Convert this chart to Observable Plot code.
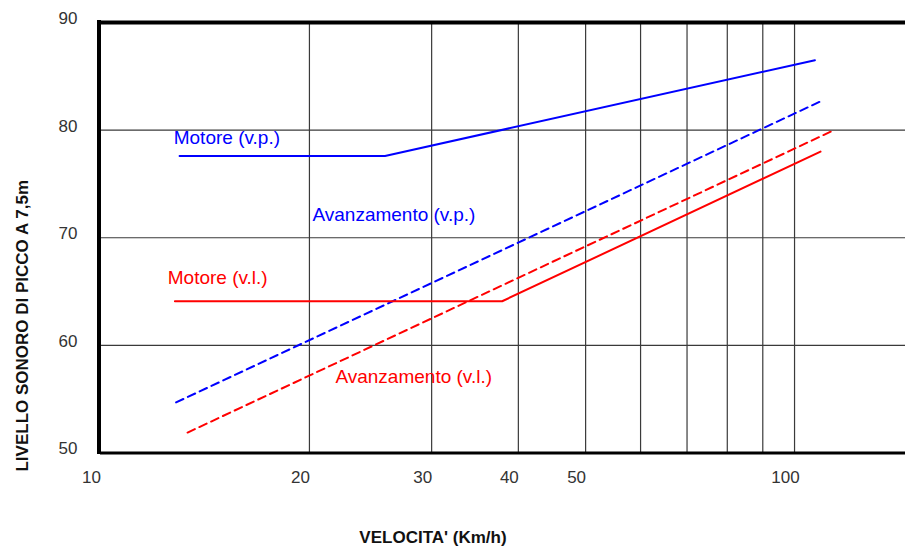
<!DOCTYPE html>
<html>
<head>
<meta charset="utf-8">
<script src="https://cdn.jsdelivr.net/npm/d3@7"></script>
<script src="https://cdn.jsdelivr.net/npm/@observablehq/plot@0.6"></script>
<style>
  html, body { margin: 0; padding: 0; background: #fff; }
</style>
</head>
<body>
<div id="chart"></div>
<script>
// Series (speed km/h, level dB)
const motoreVPSpeed = [13.0, 25.7, 107.0];
const motoreVPLevel = [77.6, 77.6, 86.5];
const avanzVPSpeed = [12.85, 110.1];
const avanzVPLevel = [54.7, 82.8];
const motoreVLSpeed = [12.8, 37.9, 109.0];
const motoreVLLevel = [64.1, 64.1, 78.0];
const avanzVLSpeed = [13.35, 114.0];
const avanzVLLevel = [51.9, 80.0];

// Series labels and their anchor points (data units)
const seriesNames = ["Motore (v.p.)", "Avanzamento (v.p.)", "Motore (v.l.)", "Avanzamento (v.l.)"];
const labelSpeed = [12.75, 20.2, 12.5, 21.8];
const labelLevel = [79.3, 72.1, 66.3, 57.1];
const labelColors = ["#0000ff", "#0000ff", "#ff0000", "#ff0000"];

// Ticks & grid
const xTickValues = [10, 20, 30, 40, 50, 100];
const xGridValues = [20, 30, 40, 50, 60, 70, 80, 90, 100];
const yTickValues = [50, 60, 70, 80, 90];
const yGridValues = [60, 70, 80];

const xTitle = "VELOCITA' (Km/h)";
const yTitle = "LIVELLO SONORO DI PICCO A 7,5m";

const toRows = (xs, ys) => xs.map((x, i) => ({x, y: ys[i]}));
const labels = seriesNames.map((t, i) => ({t, x: labelSpeed[i], y: labelLevel[i], c: labelColors[i]}));

const chart = Plot.plot({
  width: 905,
  height: 547,
  marginLeft: 100,
  marginRight: 0,
  marginTop: 22,
  marginBottom: 94.5,
  style: {fontFamily: "'Liberation Sans', Arial, sans-serif", background: "#fff"},
  x: {type: "log", domain: [10, 144.5]},
  y: {domain: [50, 90]},
  marks: [
    Plot.ruleX(xGridValues, {stroke: "#3a3a3a", strokeWidth: 1.2}),
    Plot.ruleY(yGridValues, {stroke: "#3a3a3a", strokeWidth: 1.2}),
    Plot.line(toRows(motoreVPSpeed, motoreVPLevel), {x: "x", y: "y", stroke: "#0000ff", strokeWidth: 2}),
    Plot.line(toRows(avanzVPSpeed, avanzVPLevel), {x: "x", y: "y", stroke: "#0000ff", strokeWidth: 2, strokeDasharray: "8,5"}),
    Plot.line(toRows(motoreVLSpeed, motoreVLLevel), {x: "x", y: "y", stroke: "#ff0000", strokeWidth: 2}),
    Plot.line(toRows(avanzVLSpeed, avanzVLLevel), {x: "x", y: "y", stroke: "#ff0000", strokeWidth: 2, strokeDasharray: "8,5"}),
    Plot.text(labels, {x: "x", y: "y", text: "t", fill: "c", textAnchor: "start", lineAnchor: "middle", fontSize: 19}),
    // frame (top, left, bottom)
    Plot.ruleY([90], {stroke: "#000", strokeWidth: 4}),
    Plot.ruleY([50], {stroke: "#000", strokeWidth: 3}),
    Plot.ruleX([10], {stroke: "#000", strokeWidth: 4, dx: -1.5, insetTop: -2, insetBottom: -1.5}),
    Plot.axisX({ticks: xTickValues, tickSize: 0, tickPadding: 18, tickFormat: d => String(d), fontSize: 17, color: "#333", dx: -9, label: null}),
    Plot.axisY({ticks: yTickValues, tickSize: 0, tickPadding: 23, tickFormat: d => String(d), fontSize: 17, color: "#333", dy: -4, label: null}),
    Plot.text([xTitle], {frameAnchor: "bottom", textAnchor: "middle", lineAnchor: "middle", dx: -70, dy: 84.5, fontSize: 17, fontWeight: "bold", fill: "#111"}),
    Plot.text([yTitle], {frameAnchor: "left", textAnchor: "middle", lineAnchor: "middle", rotate: -90, dx: -78, dy: 88, fontSize: 17, fontWeight: "bold", fill: "#111"})
  ]
});
document.getElementById("chart").appendChild(chart);
</script>
</body>
</html>
